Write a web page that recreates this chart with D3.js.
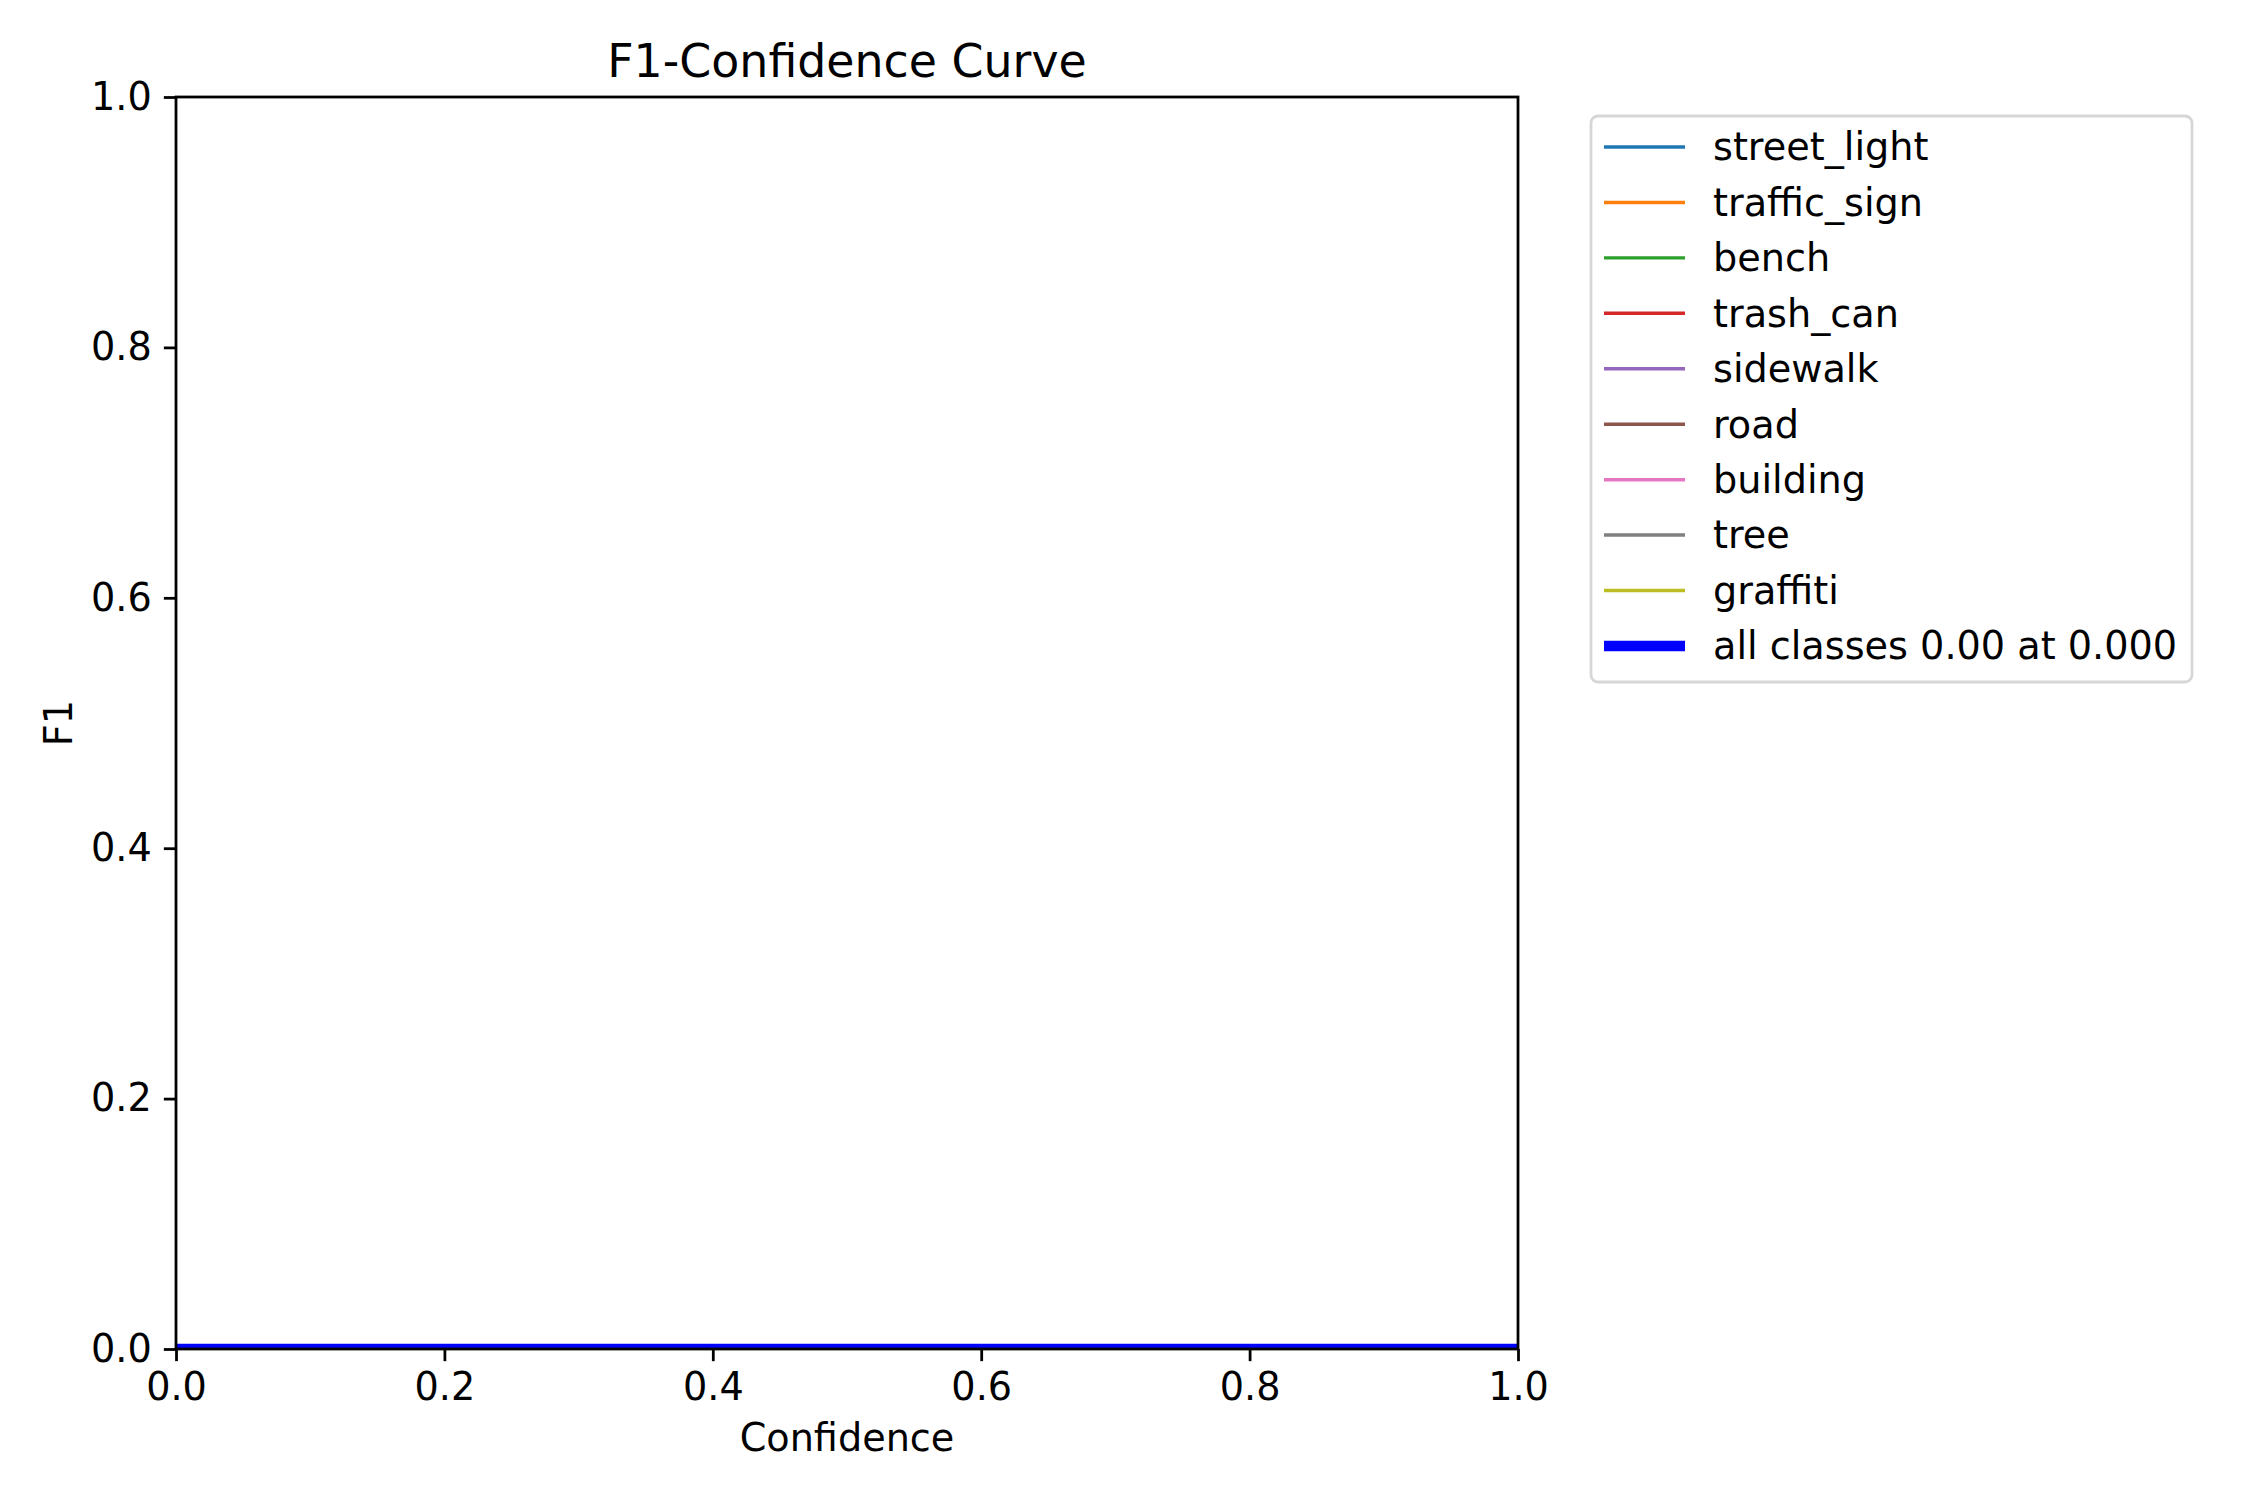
<!DOCTYPE html>
<html>
<head>
<meta charset="utf-8">
<script src="https://cdn.jsdelivr.net/npm/d3@7"></script>
<style>
  body { margin: 0; background: #fff; }
  svg { display: block; font-family: "DejaVu Sans", sans-serif; }
</style>
</head>
<body>
<svg id="chart" width="2250" height="1500"></svg>
<script>
'use strict';

// ── data: every class curve sits flat on zero ──
const confidence = [0.0, 0.2, 0.4, 0.6, 0.8, 1.0];

const classNames = ['street_light', 'traffic_sign', 'bench', 'trash_can',
                    'sidewalk', 'road', 'building', 'tree', 'graffiti'];

const classF1 = [
  [0, 0, 0, 0, 0, 0],   // street_light
  [0, 0, 0, 0, 0, 0],   // traffic_sign
  [0, 0, 0, 0, 0, 0],   // bench
  [0, 0, 0, 0, 0, 0],   // trash_can
  [0, 0, 0, 0, 0, 0],   // sidewalk
  [0, 0, 0, 0, 0, 0],   // road
  [0, 0, 0, 0, 0, 0],   // building
  [0, 0, 0, 0, 0, 0],   // tree
  [0, 0, 0, 0, 0, 0],   // graffiti
];

const allClassesF1 = [0, 0, 0, 0, 0, 0];
const allClassesLabel = 'all classes 0.00 at 0.000';

const xTicks = [0.0, 0.2, 0.4, 0.6, 0.8, 1.0];
const yTicks = [0.0, 0.2, 0.4, 0.6, 0.8, 1.0];

const CLASS_COLORS = ['#1f77b4', '#ff7f0e', '#2ca02c', '#d62728', '#9467bd',
                      '#8c564b', '#e377c2', '#7f7f7f', '#bcbd22'];
const ALL_COLOR = '#0000ff';

// ── layout (px at 250 dpi) ──
const PT = 250 / 72;
const plot = { left: 176, right: 1518, top: 97, bottom: 1349 };
const FS = 11 * PT;          // tick / legend font
const TITLE_FS = 13.2 * PT;

const svg = d3.select('#chart');

const x = d3.scaleLinear().domain([0, 1]).range([plot.left, plot.right]);
const y = d3.scaleLinear().domain([0, 1]).range([plot.bottom, plot.top]);

svg.append('defs').append('clipPath').attr('id', 'plot-clip')
  .append('rect')
  .attr('x', plot.left).attr('y', plot.top)
  .attr('width', plot.right - plot.left).attr('height', plot.bottom - plot.top);

const line = d3.line()
  .x((d, i) => x(confidence[i]))
  .y(d => y(d));

// curves
const curves = svg.append('g').attr('clip-path', 'url(#plot-clip)');
classF1.forEach((vals, k) => {
  curves.append('path')
    .attr('d', line(vals))
    .attr('fill', 'none')
    .attr('stroke', CLASS_COLORS[k])
    .attr('stroke-width', 1 * PT);
});
curves.append('path')
  .attr('d', line(allClassesF1))
  .attr('fill', 'none')
  .attr('stroke', ALL_COLOR)
  .attr('stroke-width', 3 * PT);

// axes
const xAxis = svg.append('g')
  .attr('transform', `translate(0,${plot.bottom})`)
  .call(d3.axisBottom(x).tickValues(xTicks).tickFormat(d3.format('.1f'))
    .tickSize(3.5 * PT).tickPadding(3.5 * PT));

const yAxis = svg.append('g')
  .attr('transform', `translate(${plot.left},0)`)
  .call(d3.axisLeft(y).tickValues(yTicks).tickFormat(d3.format('.1f'))
    .tickSize(3.5 * PT).tickPadding(3.5 * PT));

[xAxis, yAxis].forEach(ax => {
  ax.select('.domain').remove();
  ax.selectAll('.tick line').attr('stroke', '#000').attr('stroke-width', 0.8 * PT);
  ax.selectAll('.tick text')
    .attr('fill', '#000')
    .style('font-size', `${FS}px`)
    .style('font-family', '"DejaVu Sans", sans-serif');
});

// frame on top of the lines, like matplotlib spines
svg.append('rect')
  .attr('x', plot.left).attr('y', plot.top)
  .attr('width', plot.right - plot.left).attr('height', plot.bottom - plot.top)
  .attr('fill', 'none')
  .attr('stroke', '#000')
  .attr('stroke-width', 0.8 * PT);

// labels
const cx = (plot.left + plot.right) / 2;
svg.append('text')
  .attr('x', cx).attr('y', 77)
  .attr('text-anchor', 'middle')
  .style('font-size', `${TITLE_FS}px`)
  .text('F1-Confidence Curve');

svg.append('text')
  .attr('x', cx).attr('y', 1451)
  .attr('text-anchor', 'middle')
  .style('font-size', `${FS}px`)
  .text('Confidence');

svg.append('text')
  .attr('transform', `translate(72,${(plot.top + plot.bottom) / 2}) rotate(-90)`)
  .attr('text-anchor', 'middle')
  .style('font-size', `${FS}px`)
  .text('F1');

// legend
const legend = svg.append('g');
legend.append('rect')
  .attr('x', 1591).attr('y', 116)
  .attr('width', 601).attr('height', 566)
  .attr('rx', 7)
  .attr('fill', '#fff').attr('fill-opacity', 0.8)
  .attr('stroke', '#d6d6d6')
  .attr('stroke-width', 0.8 * PT);

const entries = classNames.map((name, k) => ({ name, color: CLASS_COLORS[k], w: 1 * PT }))
  .concat([{ name: allClassesLabel, color: ALL_COLOR, w: 3 * PT }]);

const rowY = d3.scaleLinear().domain([0, entries.length - 1]).range([147, 646]);

const rows = legend.selectAll('g.row')
  .data(entries)
  .enter().append('g')
  .attr('class', 'row')
  .attr('transform', (d, i) => `translate(0,${rowY(i)})`);

rows.append('line')
  .attr('x1', 1604).attr('x2', 1685)
  .attr('y1', 0).attr('y2', 0)
  .attr('stroke', d => d.color)
  .attr('stroke-width', d => d.w);

rows.append('text')
  .attr('x', 1713).attr('y', 0)
  .attr('dy', '0.35em')
  .style('font-size', `${FS}px`)
  .text(d => d.name);
</script>
</body>
</html>
